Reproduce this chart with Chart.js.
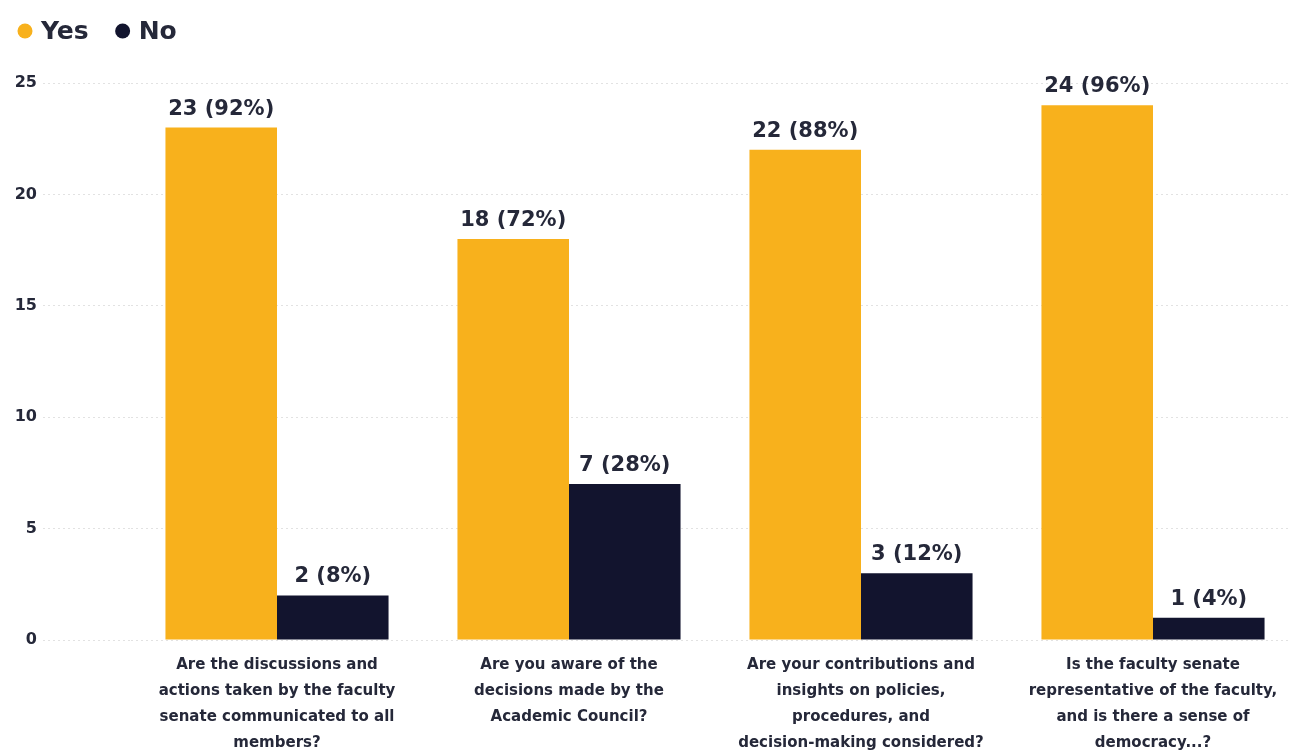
<!DOCTYPE html>
<html>
<head>
<meta charset="utf-8">
<title>Encuesta senado</title>
<script src="https://cdn.jsdelivr.net/npm/chart.js@4.4.1/dist/chart.umd.min.js"></script>
<style>
    html, body { margin: 0; padding: 0; background: #fff; overflow: hidden; }
    #contenedor { width: 1299px; height: 755px; position: relative; }
</style>
</head>
<body>
<div id="contenedor"><canvas id="graficoEncuesta"></canvas></div>
<script>
// Preguntas (cada una partida en lineas para el eje X)
const preguntas = [
    ['Are the discussions and', 'actions taken by the faculty', 'senate communicated to all', 'members?'],
    ['Are you aware of the', 'decisions made by the', 'Academic Council?'],
    ['Are your contributions and', 'insights on policies,', 'procedures, and', 'decision-making considered?'],
    ['Is the faculty senate', 'representative of the faculty,', 'and is there a sense of', 'democracy...?']
];

const respuestasSi = [23, 18, 22, 24];
const respuestasNo = [2, 7, 3, 1];
const porcentajeSi = [92, 72, 88, 96];
const porcentajeNo = [8, 28, 12, 4];
const ticksY = [0, 5, 10, 15, 20, 25];

const colorSi = '#F8B11C';
const colorNo = '#12142E';
const colorTexto = '#252839';
const fuente = "'DejaVu Sans', 'Noto Sans', sans-serif";

// Etiquetas "n (p%)" encima de cada barra
const etiquetasBarras = {
    id: 'etiquetasBarras',
    afterDatasetsDraw(chart) {
        const ctx = chart.ctx;
        const porcentajes = [porcentajeSi, porcentajeNo];
        ctx.save();
        ctx.font = `700 21px ${fuente}`;
        ctx.fillStyle = colorTexto;
        ctx.textAlign = 'center';
        ctx.textBaseline = 'alphabetic';
        chart.data.datasets.forEach((ds, i) => {
            chart.getDatasetMeta(i).data.forEach((barra, j) => {
                ctx.fillText(`${ds.data[j]} (${porcentajes[i][j]}%)`, barra.x, barra.y - 13);
            });
        });
        ctx.restore();
    }
};

// Leyenda simple arriba a la izquierda
const leyenda = {
    id: 'leyenda',
    afterDraw(chart) {
        const ctx = chart.ctx;
        ctx.save();
        ctx.font = `700 25px ${fuente}`;
        ctx.textBaseline = 'middle';
        let x = 18;
        const y = 31;
        chart.data.datasets.forEach(ds => {
            ctx.fillStyle = ds.backgroundColor;
            ctx.beginPath();
            ctx.arc(x + 7, y, 7.5, 0, Math.PI * 2);
            ctx.fill();
            ctx.fillStyle = colorTexto;
            ctx.fillText(ds.label, x + 23, y + 1);
            x += 23 + ctx.measureText(ds.label).width + 27;
        });
        ctx.restore();
    }
};

const ctx = document.getElementById('graficoEncuesta').getContext('2d');
const graficoEncuesta = new Chart(ctx, {
    type: 'bar',
    data: {
        labels: preguntas,
        datasets: [
            {
                label: 'Yes',
                data: respuestasSi,
                backgroundColor: colorSi,
                barPercentage: 1.0,
                categoryPercentage: 0.764
            },
            {
                label: 'No',
                data: respuestasNo,
                backgroundColor: colorNo,
                barPercentage: 1.0,
                categoryPercentage: 0.764
            }
        ]
    },
    options: {
        responsive: true,
        maintainAspectRatio: false,
        animation: false,
        layout: {
            padding: { top: 83, left: 0, right: 0, bottom: 0 }
        },
        plugins: {
            legend: { display: false },
            tooltip: { enabled: false }
        },
        scales: {
            x: {
                grid: { display: false, drawTicks: false },
                border: { display: false },
                ticks: {
                    color: colorTexto,
                    font: { family: fuente, size: 15, weight: '700', lineHeight: '26px' },
                    padding: 12,
                    maxRotation: 0,
                    autoSkip: false
                },
                afterFit(scale) { scale.height = 115; }
            },
            y: {
                min: 0,
                max: 25,
                afterBuildTicks(scale) {
                    scale.ticks = ticksY.map(v => ({ value: v }));
                },
                grid: {
                    color: '#e2e2e2',
                    lineWidth: 1,
                    drawTicks: true,
                    tickLength: 88,
                    tickColor: '#e2e2e2',
                    tickBorderDash: [2, 3]
                },
                border: { display: false, dash: [2, 3] },
                ticks: {
                    color: colorTexto,
                    font: { family: fuente, size: 16, weight: '700' },
                    padding: 6
                },
                afterFit(scale) { scale.width = 131; }
            }
        }
    },
    plugins: [etiquetasBarras, leyenda]
});
</script>
</body>
</html>
